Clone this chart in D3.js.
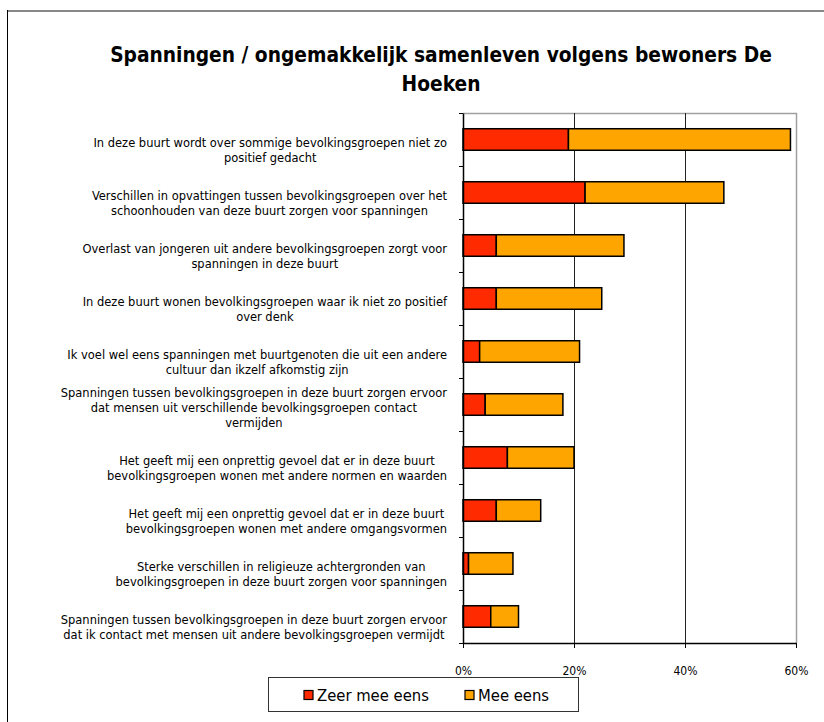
<!DOCTYPE html>
<html>
<head>
<meta charset="utf-8">
<script src="https://cdn.jsdelivr.net/npm/d3@7"></script>
<style>
  html, body { margin: 0; padding: 0; background: #fff; }
  svg { display: block; }
  text { font-family: "DejaVu Sans Condensed", "DejaVu Sans", sans-serif; font-stretch: condensed; fill: #000; }
</style>
</head>
<body>
<svg id="chart" width="824" height="722"></svg>
<script>
// ---------- data ----------
const titleLines = ["Spanningen / ongemakkelijk samenleven volgens bewoners De", "Hoeken"];
const categories = [
  "In deze buurt wordt over sommige bevolkingsgroepen niet zo\npositief gedacht",
  "Verschillen in opvattingen tussen bevolkingsgroepen over het\nschoonhouden van deze buurt zorgen voor spanningen",
  "Overlast van jongeren uit andere bevolkingsgroepen zorgt voor\nspanningen in deze buurt",
  "In deze buurt wonen bevolkingsgroepen waar ik niet zo positief\nover denk",
  "Ik voel wel eens spanningen met buurtgenoten die uit een andere\ncultuur dan ikzelf afkomstig zijn",
  "Spanningen tussen bevolkingsgroepen in deze buurt zorgen ervoor\ndat mensen uit verschillende bevolkingsgroepen contact\nvermijden",
  "Het geeft mij een onprettig gevoel dat er in deze buurt\nbevolkingsgroepen wonen met andere normen en waarden",
  "Het geeft mij een onprettig gevoel dat er in deze buurt\nbevolkingsgroepen wonen met andere omgangsvormen",
  "Sterke verschillen in religieuze achtergronden van\nbevolkingsgroepen in deze buurt zorgen voor spanningen",
  "Spanningen tussen bevolkingsgroepen in deze buurt zorgen ervoor\ndat ik contact met mensen uit andere bevolkingsgroepen vermijdt"
];
const zeerMeeEens = [19, 22, 6, 6, 3, 4, 8, 6, 1, 5];
const meeEens     = [40, 25, 23, 19, 18, 14, 12, 8, 8, 5];
const seriesNames = ["Zeer mee eens", "Mee eens"];
const seriesColors = ["#FF2A00", "#FFA500"];
const xTickValues = [0, 20, 40, 60];

// ---------- helpers ----------
const svg = d3.select("#chart");
function fitSize(text, weight, target) {
  const t = svg.append("text").attr("font-size", 20).attr("font-weight", weight).text(text);
  const w = t.node().getComputedTextLength();
  t.remove();
  return 20 * target / w;
}
const titleSize = fitSize(titleLines[0], "bold", 662);
const labelSize = fitSize("In deze buurt wordt over sommige bevolkingsgroepen niet zo", "normal", 354);
const tickSize = fitSize("20%", "normal", 24);
const legendSize = fitSize("Zeer mee eens", "normal", 112);

// ---------- layout ----------
const plot = { left: 463, right: 796, top: 113, bottom: 643 };

// chart frame
svg.append("line").attr("x1", 7).attr("x2", 824).attr("y1", 11).attr("y2", 11)
  .attr("stroke", "#888").attr("stroke-width", 2);
svg.append("line").attr("x1", 7.5).attr("x2", 7.5).attr("y1", 10).attr("y2", 722)
  .attr("stroke", "#000").attr("stroke-width", 1);

// title
svg.append("g").selectAll("text").data(titleLines).join("text")
  .attr("x", 441).attr("y", (d, i) => 62 + i * 29)
  .attr("text-anchor", "middle").attr("font-weight", "bold")
  .attr("font-size", titleSize).text(d => d);

// scales
const x = d3.scaleLinear().domain([0, 60]).range([plot.left, plot.right]);
const p = 0.594;
const y = d3.scaleBand().domain(d3.range(categories.length))
  .range([plot.top, plot.bottom]).paddingInner(p).paddingOuter(p / 2);
const yBound = d3.scaleLinear().domain([0, categories.length]).range([plot.top, plot.bottom]);

// plot border (top & right, grey)
svg.append("path")
  .attr("d", `M${plot.left},${plot.top + 0.5}H${plot.right + 0.5}V${plot.bottom}`)
  .attr("fill", "none").attr("stroke", "#a0a0a0").attr("stroke-width", 1.5);

// gridlines
svg.append("g").selectAll("line").data(xTickValues.filter(v => v > 0 && v < 60)).join("line")
  .attr("x1", d => Math.round(x(d)) + 0.5).attr("x2", d => Math.round(x(d)) + 0.5)
  .attr("y1", plot.top).attr("y2", plot.bottom)
  .attr("stroke", "#222").attr("stroke-width", 1);

// stacked bars
const rows = categories.map((c, i) => ({ i, zeer: zeerMeeEens[i], mee: meeEens[i] }));
const stack = d3.stack().keys(["zeer", "mee"])(rows);
svg.append("g").selectAll("g").data(stack).join("g")
  .attr("fill", (d, k) => seriesColors[k])
  .selectAll("rect").data(d => d).join("rect")
  .attr("x", d => x(d[0])).attr("width", d => x(d[1]) - x(d[0]))
  .attr("y", d => y(d.data.i)).attr("height", y.bandwidth())
  .attr("stroke", "#000").attr("stroke-width", 1.5);

// left axis: ticks at category boundaries
const gLeft = svg.append("g").attr("transform", `translate(${plot.left},0)`)
  .call(d3.axisLeft(yBound).tickValues(d3.range(categories.length + 1)).tickFormat("").tickSize(4).tickSizeOuter(0));
gLeft.select(".domain").attr("stroke", "#000").attr("stroke-width", 1.5);
gLeft.selectAll(".tick line").attr("stroke", "#000");

// bottom axis
const gBottom = svg.append("g").attr("transform", `translate(0,${plot.bottom})`)
  .call(d3.axisBottom(x).tickValues(xTickValues).tickFormat(d => d + "%").tickSize(5).tickSizeOuter(0).tickPadding(18));
gBottom.select(".domain").attr("stroke", "#000").attr("stroke-width", 1.5);
gBottom.selectAll(".tick line").attr("stroke", "#000");
gBottom.selectAll(".tick text")
  .attr("font-family", "DejaVu Sans Condensed, DejaVu Sans, sans-serif")
  .attr("font-size", tickSize).attr("fill", "#000");

// category labels
const labelRight = 447, lineH = 15;
const gLab = svg.append("g").attr("font-size", labelSize);
categories.forEach((c, i) => {
  const lines = c.split("\n");
  const tmp = gLab.append("g");
  const ts = tmp.selectAll("text").data(lines).join("text").text(d => d);
  const maxW = d3.max(ts.nodes(), n => n.getComputedTextLength());
  const cx = labelRight - maxW / 2;
  const cy = y(i) + y.bandwidth() / 2;
  const n = lines.length;
  ts.attr("x", cx).attr("text-anchor", "middle")
    .attr("y", (d, j) => cy + 18.5 - (n - 1 - j) * lineH)
    .attr("dy", "0.35em");
});

// legend
const lg = svg.append("g");
lg.append("rect").attr("x", 268.5).attr("y", 677.5).attr("width", 310).attr("height", 34)
  .attr("fill", "#fff").attr("stroke", "#333").attr("stroke-width", 1);
const legX = [304, 465];
const li = lg.selectAll("g.item").data(seriesNames).join("g").attr("class", "item");
li.append("rect").attr("x", (d, k) => legX[k]).attr("y", 690.5).attr("width", 9).attr("height", 9)
  .attr("fill", (d, k) => seriesColors[k]).attr("stroke", "#000").attr("stroke-width", 1.2);
li.append("text").attr("x", (d, k) => legX[k] + 13).attr("y", 695).attr("dy", "0.35em")
  .attr("font-size", legendSize).text(d => d);
</script>
</body>
</html>
